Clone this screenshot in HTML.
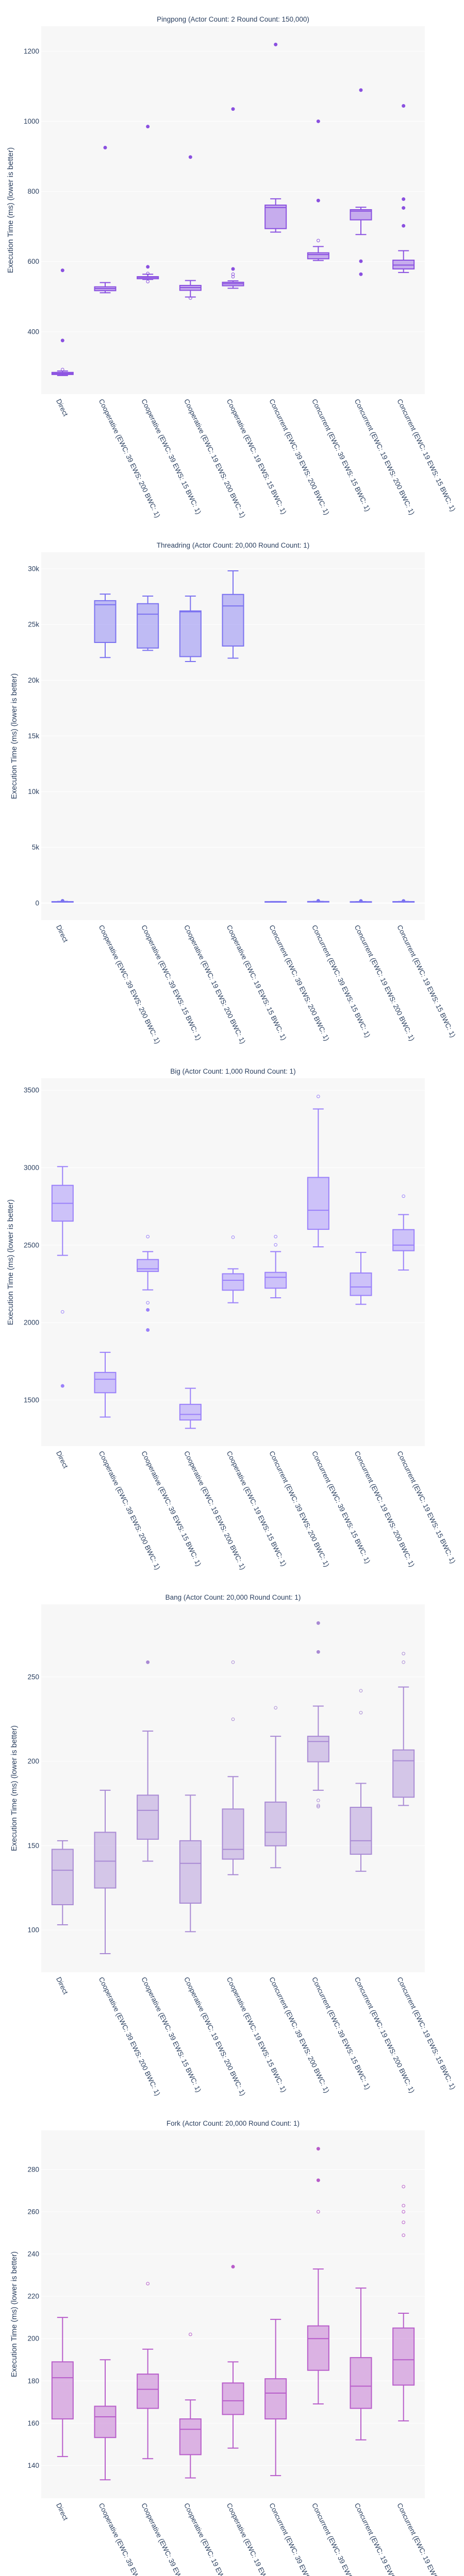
<!DOCTYPE html>
<html><head><meta charset="utf-8"><title>Benchmarks</title>
<style>
html,body{margin:0;padding:0;background:#fff;width:900px;height:5101px;overflow:hidden;}
svg{display:block;overflow:hidden;font-family:"Liberation Sans",Arial,sans-serif;}
</style></head>
<body>
<svg id="fig" width="900" height="5101" viewBox="0 0 900 5101" xmlns="http://www.w3.org/2000/svg"></svg>
<script>
// ---- shared categories ----
const categories = ["Direct","Cooperative (EWC: 39 EWS: 200 BWC: 1)","Cooperative (EWC: 39 EWS: 15 BWC: 1)","Cooperative (EWC: 19 EWS: 200 BWC: 1)","Cooperative (EWC: 19 EWS: 15 BWC: 1)","Concurrent (EWC: 39 EWS: 200 BWC: 1)","Concurrent (EWC: 39 EWS: 15 BWC: 1)","Concurrent (EWC: 19 EWS: 200 BWC: 1)","Concurrent (EWC: 19 EWS: 15 BWC: 1)"];

// ---- Pingpong ----
const ppLo  = [275,511,549,499,524,684,603,677,569];
const ppQ1  = [278,517,551,518,531,694,608,719,579];
const ppMed = [281,523,555,526,537,754,620,744,590];
const ppQ3  = [284,528,557,532,541,761,625,748,604];
const ppHi  = [288,540,564,546,545,779,643,755,631];
const ppOut = [[0,575,1],[0,375,1],[0,292,0],[1,925,1],[2,585,1],[2,985,1],[2,566,0],[2,543,0],[3,898,1],[3,496,0],[4,579,1],[4,1035,1],[4,564,0],[4,557,0],[5,1219,1],[6,1000,1],[6,774,1],[6,660,0],[7,1089,1],[7,601,1],[7,564,1],[8,1044,1],[8,778,1],[8,753,1],[8,702,1]];
const ppTicks = [400,600,800,1000,1200];
const ppTickLabels = ["400","600","800","1000","1200"];

// ---- Threadring ----
const trLo  = [90,22040,22680,21680,21980,100,105,95,100];
const trQ1  = [100,23390,22890,22120,23070,110,118,105,112];
const trMed = [115,26780,25930,26140,26670,118,128,112,120];
const trQ3  = [130,27140,26870,26220,27700,125,140,120,132];
const trHi  = [150,27730,27550,27550,29820,135,150,130,145];
const trOut = [[0,200,1],[6,200,1],[7,190,1],[8,190,1]];
const trTicks = [0,5000,10000,15000,20000,25000,30000];
const trTickLabels = ["0","5k","10k","15k","20k","25k","30k"];

// ---- Big ----
const bgLo  = [2434,1390,2211,1317,2128,2160,2489,2118,2339];
const bgQ1  = [2655,1547,2330,1371,2209,2222,2602,2175,2464];
const bgMed = [2770,1634,2347,1407,2273,2292,2725,2230,2500];
const bgQ3  = [2886,1678,2407,1472,2315,2324,2937,2320,2600];
const bgHi  = [3007,1808,2458,1576,2347,2458,3379,2453,2697];
const bgOut = [[0,2069,0],[0,1591,1],[2,2555,0],[2,2128,0],[2,2082,1],[2,1952,1],[4,2551,0],[5,2555,0],[5,2502,0],[6,3460,0],[8,2816,0]];
const bgTicks = [1500,2000,2500,3000,3500];
const bgTickLabels = ["1500","2000","2500","3000","3500"];

// ---- Bang ----
const bnLo  = [103.1,86.0,140.8,99.0,132.8,136.9,182.8,134.8,173.8];
const bnQ1  = [115,124.9,153.8,115.9,142,149.9,199.7,144.9,178.7];
const bnMed = [135.4,140.8,170.9,139.5,147.8,157.9,211.7,152.9,200.3];
const bnQ3  = [147.8,157.9,179.9,152.9,171.7,175.8,214.8,172.7,206.7];
const bnHi  = [152.9,182.8,217.9,179.9,190.9,214.8,232.7,186.9,244];
const bnOut = [[2,258.7,1],[4,258.7,0],[4,224.9,0],[5,231.7,0],[6,281.9,1],[6,264.8,1],[6,176.8,0],[6,173.8,0],[6,173.1,0],[7,241.8,0],[7,228.8,0],[8,263.8,0],[8,258.7,0]];
const bnTicks = [100,150,200,250];
const bnTickLabels = ["100","150","200","250"];

// ---- Fork ----
const fkLo  = [144.2,133.2,143.2,134.1,148.2,135.2,169.1,152.1,161.1];
const fkQ1  = [162,153.2,167,145.1,164.1,162,185,167,178];
const fkMed = [181.5,163,176,157.1,170.6,174.2,200,177.5,190];
const fkQ3  = [189,168,183.2,162,179,181,206,191,205];
const fkHi  = [210,190,195,171,189,209.1,232.9,223.9,212];
const fkOut = [[2,226,0],[3,202,0],[4,234,1],[6,289.8,1],[6,274.9,1],[6,260,0],[8,271.9,0],[8,262.9,0],[8,260,0],[8,255,0],[8,248.9,0]];
const fkTicks = [140,160,180,200,220,240,260,280];
const fkTickLabels = ["140","160","180","200","220","240","260","280"];

const charts = [
  {key:"pingpong",title:"Pingpong (Actor Count: 2 Round Count: 150,000)",top:51,range:[222,1271],color:"#8a50e0",lo:ppLo,q1:ppQ1,med:ppMed,q3:ppQ3,hi:ppHi,out:ppOut,ticks:ppTicks,labels:ppTickLabels,ytx:20},
  {key:"threadring",title:"Threadring (Actor Count: 20,000 Round Count: 1)",top:1072,range:[-1533,31482],color:"#7b72f0",lo:trLo,q1:trQ1,med:trMed,q3:trQ3,hi:trHi,out:trOut,ticks:trTicks,labels:trTickLabels,ytx:27},
  {key:"big",title:"Big (Actor Count: 1,000 Round Count: 1)",top:2093,range:[1202,3577],color:"#9a80fa",lo:bgLo,q1:bgQ1,med:bgMed,q3:bgQ3,hi:bgHi,out:bgOut,ticks:bgTicks,labels:bgTickLabels,ytx:20},
  {key:"bang",title:"Bang (Actor Count: 20,000 Round Count: 1)",top:3114,range:[75,293],color:"#a98ad4",lo:bnLo,q1:bnQ1,med:bnMed,q3:bnQ3,hi:bnHi,out:bnOut,ticks:bnTicks,labels:bnTickLabels,ytx:27},
  {key:"fork",title:"Fork (Actor Count: 20,000 Round Count: 1)",top:4135,range:[124.5,298.5],color:"#b85dca",lo:fkLo,q1:fkQ1,med:fkMed,q3:fkQ3,hi:fkHi,out:fkOut,ticks:fkTicks,labels:fkTickLabels,ytx:27}
];

const NS = "http://www.w3.org/2000/svg";
const svg = document.getElementById("fig");
const PL = 80, PR = 824, PH = 714, TXT = "#2a3f5f";
function mk(tag, attrs, parent){
  const e = document.createElementNS(NS, tag);
  for (const k in attrs) e.setAttribute(k, attrs[k]);
  parent.appendChild(e);
  return e;
}

charts.forEach(function(c){
  const g = mk("g", {}, svg);
  
  
  const top = c.top, bot = c.top + PH;
  const y = v => bot - (v - c.range[0]) / (c.range[1] - c.range[0]) * PH;
  const band = (PR - PL) / categories.length;
  const x = i => PL + band * (i + 0.5);

  const bg = mk("rect", {x:PL, y:top, width:PR-PL, height:PH, fill:"#f7f7f7"}, g);
  
  

  const title = mk("text", {x:(PL+PR)/2, y:top-9, "text-anchor":"middle", "font-size":"13.5", fill:TXT}, g);
  title.textContent = c.title;
  
  

  c.ticks.forEach(function(t, i){
    const gl = mk("line", {x1:PL, x2:PR, y1:y(t), y2:y(t), stroke:"#fff", "stroke-width": t===0 ? 2 : 1}, g);
    
    
    const tl = mk("text", {x:PL-4, y:y(t)+4.5, "text-anchor":"end", "font-size":"13.5", fill:TXT}, g);
    tl.textContent = c.labels[i];
    
    
  });

  const yt = mk("text", {transform:"translate("+(c.ytx+5)+","+(top+PH/2)+") rotate(-90)", "text-anchor":"middle", "font-size":"15", fill:TXT}, g);
  yt.textContent = "Execution Time (ms) (lower is better)";
  
  

  categories.forEach(function(name, i){
    const cx = x(i), bw = 41, cw = 21;
    const bg2 = mk("g", {}, g);
    
    
    const st = {stroke:c.color, "stroke-width":2, fill:"none"};
    mk("line", Object.assign({x1:cx, x2:cx, y1:y(c.hi[i]), y2:y(c.q3[i])}, st), bg2);
    mk("line", Object.assign({x1:cx, x2:cx, y1:y(c.q1[i]), y2:y(c.lo[i])}, st), bg2);
    mk("line", Object.assign({x1:cx-cw/2, x2:cx+cw/2, y1:y(c.hi[i]), y2:y(c.hi[i])}, st), bg2);
    mk("line", Object.assign({x1:cx-cw/2, x2:cx+cw/2, y1:y(c.lo[i]), y2:y(c.lo[i])}, st), bg2);
    mk("rect", {x:cx-bw/2, y:y(c.q3[i]), width:bw, height:Math.max(1, y(c.q1[i])-y(c.q3[i])), fill:c.color, "fill-opacity":0.45, stroke:c.color, "stroke-width":2}, bg2);
    mk("line", Object.assign({x1:cx-bw/2, x2:cx+bw/2, y1:y(c.med[i]), y2:y(c.med[i])}, st), bg2);

    const lab = mk("text", {transform:"translate("+(cx-4)+","+(bot+8)+") rotate(64)", "font-size":"13.5", fill:TXT, "dominant-baseline":"hanging"}, g);
    lab.textContent = name;
    
    
  });

  c.out.forEach(function(o){
    const p = mk("circle", {cx:x(o[0]), cy:y(o[1]), r:o[2] ? 3 : 2.8, fill:o[2] ? c.color : "none", stroke:c.color, "stroke-width":1}, g);
    
    
  });
});
</script>
</body></html>
